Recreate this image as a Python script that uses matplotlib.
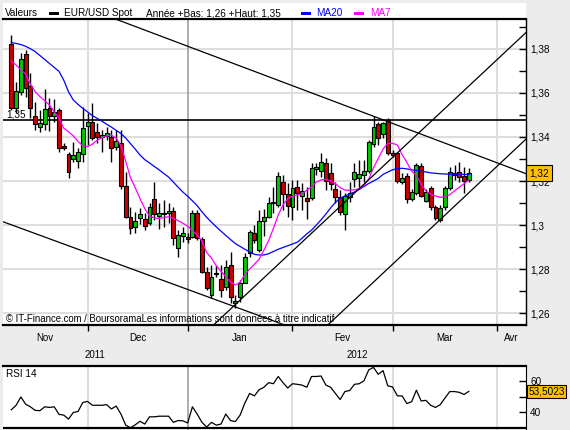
import numpy as np
import pandas as pd
import matplotlib
matplotlib.use('Agg')
import matplotlib.pyplot as plt
from matplotlib.patches import Rectangle
from matplotlib.transforms import blended_transform_factory

plt.rcParams['font.family'] = ['Liberation Sans', 'DejaVu Sans']

# EUR/USD daily candles, 9 Nov 2011 -> 23 Mar 2012
opens = [1.3822, 1.3530, 1.3603, 1.3777, 1.3631, 1.3495, 1.3447, 1.3459, 1.3530, 1.3495,
         1.3522, 1.3359, 1.3325, 1.3298, 1.3291, 1.3325, 1.3448, 1.3466, 1.3421, 1.3398,
         1.3404, 1.3398, 1.3353, 1.3371, 1.3177, 1.3038, 1.2989, 1.3030, 1.3026, 1.3008,
         1.3117, 1.3043, 1.3056, 1.3053, 1.3065, 1.2894, 1.2950, 1.2944, 1.2947, 1.3053,
         1.2935, 1.2788, 1.2682, 1.2778, 1.2753, 1.2720, 1.2818, 1.2644, 1.2671, 1.2739,
         1.2871, 1.2962, 1.2886, 1.3020, 1.3038, 1.3103, 1.3091, 1.3197, 1.3140, 1.3083,
         1.3171, 1.3132, 1.3123, 1.3122, 1.3253, 1.3247, 1.3281, 1.3235, 1.3162, 1.3129,
         1.3050, 1.3126, 1.3208, 1.3212, 1.3229, 1.3247, 1.3368, 1.3459, 1.3414, 1.3475,
         1.3329, 1.3326, 1.3197, 1.3223, 1.3117, 1.3144, 1.3268, 1.3111, 1.3167, 1.3084,
         1.3023, 1.3081, 1.3167, 1.3238, 1.3243, 1.3223, 1.3205]
highs = [1.3863, 1.3651, 1.3780, 1.3795, 1.3689, 1.3560, 1.3522, 1.3618, 1.3575, 1.3571,
         1.3530, 1.3371, 1.3333, 1.3378, 1.3348, 1.3535, 1.3507, 1.3556, 1.3462, 1.3431,
         1.3447, 1.3431, 1.3431, 1.3431, 1.3242, 1.3083, 1.3061, 1.3076, 1.3053, 1.3099,
         1.3197, 1.3099, 1.3114, 1.3099, 1.3083, 1.2977, 1.2992, 1.2962, 1.3068, 1.3068,
         1.2947, 1.2811, 1.2818, 1.2818, 1.2818, 1.2841, 1.2879, 1.2682, 1.2750, 1.2871,
         1.2977, 1.3000, 1.3068, 1.3075, 1.3129, 1.3174, 1.3243, 1.3227, 1.3189, 1.3205,
         1.3205, 1.3189, 1.3175, 1.3281, 1.3281, 1.3326, 1.3303, 1.3281, 1.3197, 1.3159,
         1.3144, 1.3197, 1.3281, 1.3296, 1.3296, 1.3387, 1.3496, 1.3470, 1.3470, 1.3485,
         1.3341, 1.3334, 1.3235, 1.3235, 1.3162, 1.3281, 1.3281, 1.3162, 1.3178, 1.3091,
         1.3091, 1.3178, 1.3265, 1.3273, 1.3288, 1.3265, 1.3258]
lows = [1.3522, 1.3507, 1.3591, 1.3583, 1.3485, 1.3431, 1.3424, 1.3431, 1.3428, 1.3469,
        1.3333, 1.3341, 1.3212, 1.3288, 1.3257, 1.3288, 1.3363, 1.3386, 1.3371, 1.3333,
        1.3386, 1.3288, 1.3341, 1.3166, 1.3030, 1.2959, 1.2964, 1.3005, 1.2977, 1.3000,
        1.3023, 1.2980, 1.2992, 1.3008, 1.2909, 1.2856, 1.2924, 1.2917, 1.2939, 1.2932,
        1.2780, 1.2705, 1.2667, 1.2765, 1.2674, 1.2705, 1.2644, 1.2621, 1.2652, 1.2735,
        1.2856, 1.2917, 1.2879, 1.2950, 1.3030, 1.3053, 1.3083, 1.3068, 1.3038, 1.3023,
        1.3068, 1.3068, 1.3026, 1.3114, 1.3228, 1.3220, 1.3159, 1.3159, 1.3099, 1.3046,
        1.2978, 1.3106, 1.3175, 1.3175, 1.3197, 1.3235, 1.3356, 1.3364, 1.3394, 1.3318,
        1.3308, 1.3193, 1.3187, 1.3099, 1.3111, 1.3137, 1.3126, 1.3106, 1.3068, 1.3023,
        1.3015, 1.3068, 1.3159, 1.3205, 1.3197, 1.3144, 1.3197]
closes = [1.3530, 1.3609, 1.3753, 1.3621, 1.3530, 1.3459, 1.3462, 1.3527, 1.3495, 1.3515,
          1.3348, 1.3348, 1.3239, 1.3316, 1.3330, 1.3441, 1.3466, 1.3394, 1.3398, 1.3407,
          1.3416, 1.3348, 1.3381, 1.3177, 1.3038, 1.2985, 1.3018, 1.3050, 1.2997, 1.3080,
          1.3050, 1.3056, 1.3048, 1.3065, 1.2939, 1.2955, 1.2965, 1.2935, 1.3053, 1.2939,
          1.2788, 1.2712, 1.2762, 1.2782, 1.2705, 1.2811, 1.2671, 1.2656, 1.2739, 1.2853,
          1.2970, 1.2932, 1.3018, 1.3038, 1.3102, 1.3101, 1.3223, 1.3140, 1.3086, 1.3167,
          1.3147, 1.3155, 1.3111, 1.3258, 1.3262, 1.3288, 1.3200, 1.3187, 1.3126, 1.3061,
          1.3132, 1.3144, 1.3243, 1.3231, 1.3247, 1.3376, 1.3447, 1.3394, 1.3465, 1.3326,
          1.3318, 1.3202, 1.3215, 1.3117, 1.3152, 1.3273, 1.3132, 1.3152, 1.3084, 1.3031,
          1.3076, 1.3167, 1.3240, 1.3228, 1.3220, 1.3200, 1.3236]

ma20 = [1.3829, 1.3825, 1.3820, 1.3812, 1.3801, 1.3788, 1.3770, 1.3752, 1.3734, 1.3716,
        1.3698, 1.3658, 1.3605, 1.3568, 1.3548, 1.3530, 1.3514, 1.3497, 1.3485, 1.3472,
        1.3458, 1.3445, 1.3430, 1.3416, 1.3395, 1.3370, 1.3345, 1.3318, 1.3297, 1.3282,
        1.3266, 1.3251, 1.3234, 1.3218, 1.3195, 1.3172, 1.3150, 1.3131, 1.3110, 1.3088,
        1.3060, 1.3035, 1.3013, 1.2992, 1.2972, 1.2953, 1.2934, 1.2916, 1.2903, 1.2890,
        1.2878, 1.2867, 1.2864, 1.2864, 1.2870, 1.2880, 1.2890, 1.2898, 1.2906, 1.2914,
        1.2922, 1.2940, 1.2960, 1.2977, 1.3000, 1.3024, 1.3050, 1.3078, 1.3103, 1.3122,
        1.3132, 1.3141, 1.3150, 1.3162, 1.3175, 1.3189, 1.3200, 1.3212, 1.3230, 1.3241,
        1.3251, 1.3256, 1.3258, 1.3255, 1.3251, 1.3248, 1.3245, 1.3241, 1.3237, 1.3235,
        1.3233, 1.3232, 1.3231, 1.3231, 1.3230, 1.3230, 1.3230]
ma7 = [1.3745, 1.3727, 1.3705, 1.3685, 1.3640, 1.3606, 1.3583, 1.3565, 1.3545, 1.3515,
       1.3485, 1.3440, 1.3424, 1.3405, 1.3380, 1.3360, 1.3356, 1.3368, 1.3385, 1.3397,
       1.3405, 1.3408, 1.3395, 1.3360, 1.3290, 1.3215, 1.3170, 1.3120, 1.3075, 1.3040,
       1.3032, 1.3030, 1.3034, 1.3038, 1.3030, 1.3020, 1.3008, 1.2995, 1.2975, 1.2955,
       1.2927, 1.2875, 1.2850, 1.2815, 1.2790, 1.2765, 1.2740, 1.2728, 1.2740, 1.2775,
       1.2800, 1.2822, 1.2845, 1.2886, 1.2930, 1.2985, 1.3045, 1.3091, 1.3120, 1.3132,
       1.3136, 1.3143, 1.3158, 1.3174, 1.3195, 1.3205, 1.3208, 1.3201, 1.3188, 1.3170,
       1.3159, 1.3158, 1.3160, 1.3165, 1.3180, 1.3210, 1.3260, 1.3303, 1.3345, 1.3371,
       1.3371, 1.3364, 1.3320, 1.3285, 1.3245, 1.3225, 1.3185, 1.3155, 1.3140, 1.3132,
       1.3126, 1.3130, 1.3138, 1.3155, 1.3172, 1.3188, 1.3205]
rsi = [41.6, 44.5, 49.9, 45.2, 43.5, 41.2, 41.0, 43.5, 43.1, 43.5,
       38.6, 38.1, 35.5, 39.8, 40.5, 46.3, 47.0, 44.5, 44.5, 44.5,
       44.9, 42.1, 44.0, 38.8, 31.6, 29.9, 31.8, 34.1, 32.3, 37.0,
       37.0, 37.4, 37.4, 37.4, 33.4, 34.6, 34.4, 33.0, 43.5, 38.8,
       33.4, 30.4, 33.4, 31.6, 32.3, 38.8, 34.6, 33.9, 38.1, 45.9,
       52.2, 50.6, 54.6, 56.2, 59.2, 58.5, 63.2, 59.2, 55.7, 58.5,
       58.1, 57.6, 56.2, 63.2, 63.2, 63.5, 57.6, 56.2, 52.2, 48.2,
       53.4, 54.1, 58.1, 58.5, 60.4, 67.5, 69.1, 64.6, 67.0, 57.1,
       56.4, 50.6, 50.6, 45.6, 46.8, 54.3, 47.3, 47.7, 44.5, 43.1,
       44.9, 49.2, 53.4, 53.4, 52.9, 51.5, 53.5023]

# hand-drawn trend lines: (index, price) pairs
trend_lines = [((20, 1.3951), (110, 1.3217)),
               ((-3, 1.3025), (60, 1.2525)),
               ((40, 1.2497), (110, 1.3915)),
               ((60, 1.2416), (110, 1.3431))]
level = 1.3477

dates = pd.bdate_range('2011-11-09', '2012-03-23', freq='C', holidays=['2011-12-26'])
calendar = pd.bdate_range('2011-11-09', '2012-04-30', freq='C', holidays=['2011-12-26'])
month_names = ['Jan', 'Fev', 'Mar', 'Avr', 'Mai', 'Juin', 'Juil', 'Aou', 'Sep', 'Oct', 'Nov', 'Dec']

X_LEFT, X_RIGHT = -1.75, 108.0
BG = '#ECECEC'
RED, GREEN = '#CC0000', '#00C800'

O, H, L, C = (np.array(v) for v in (opens, highs, lows, closes))
x = np.arange(len(dates))

starts = [i for i in range(1, len(calendar)) if calendar[i].month != calendar[i - 1].month]
year_start = [i for i in starts if calendar[i].year != calendar[i - 1].year][0]

W, Hpx = 570, 430
fig = plt.figure(figsize=(5.7, 4.3), dpi=100, facecolor=BG)
ax = fig.add_axes([3 / W, 1 - 325 / Hpx, 523 / W, 306 / Hpx])
ax_r = fig.add_axes([3 / W, 0, 523 / W, 64 / Hpx])
fig.add_artist(Rectangle((3 / W, 1 - 19 / Hpx), 523 / W, 16 / Hpx, transform=fig.transFigure,
                         facecolor='white', edgecolor='none', zorder=0))

# ---- main panel
ax.set_xlim(X_LEFT, X_RIGHT)
ax.set_ylim(1.2546, 1.3936)
major = np.round(np.arange(1.26, 1.381, 0.02), 2)
minor = np.round(np.arange(1.27, 1.391, 0.02), 2)
for v in major:
    ax.axhline(v, color='#DEDEDE', lw=1.5, zorder=0.5)
for s in starts:
    if s == year_start:
        ax.axvline(s, color='#A0A0A0', lw=1.2, zorder=0.6)
    else:
        ax.axvline(s, color='#DEDEDE', lw=1.5, zorder=0.5)

ax.axhline(level, color='black', lw=1.2, zorder=1)
trans_ay = blended_transform_factory(ax.transAxes, ax.transData)
ax.text(0.006, level + 0.0004, f"{level:.2f}".replace('.', ','), transform=trans_ay,
        fontsize=7.2, va='bottom', ha='left')

up = C >= O
ax.vlines(x, L, H, color='black', lw=1, zorder=2)
ax.bar(x, np.maximum(np.abs(C - O), 0.0001), bottom=np.minimum(O, C), width=0.82,
       color=np.where(up, GREEN, RED), edgecolor='black', lw=0.8, zorder=3)

ax.plot(x, ma20, color='#0000FF', lw=0.9, zorder=4)
ax.plot(x, ma7, color='#FF00FF', lw=0.9, zorder=4)
for (x0, p0), (x1, p1) in trend_lines:
    ax.plot([x0, x1], [p0, p1], color='black', lw=0.9, zorder=5)

ax.yaxis.tick_right()
ax.set_yticks(major)
ax.set_yticklabels([f"{v:.2f}".rstrip('0').replace('.', ',') for v in major])
ax.set_yticks(minor, minor=True)
ax.tick_params(axis='y', which='both', direction='in', length=5, width=1,
               labelsize=7.2, pad=3, colors='black')
ax.set_xticks(starts)
ax.tick_params(axis='x', direction='out', length=4, width=1, labelbottom=False)
for side in ('left',):
    ax.spines[side].set_visible(False)
ax.spines['top'].set_linewidth(1.6)
ax.spines['bottom'].set_linewidth(1.6)
ax.spines['right'].set_linewidth(1.0)

ax.text(1.006, C[-1], f"{C[-1]:.2f}".replace('.', ','), transform=trans_ay, fontsize=7.2,
        va='center', ha='left', clip_on=False, zorder=10,
        bbox=dict(boxstyle='square,pad=0.3', fc='#FFC000', ec='black', lw=0.8))

ax.text(0.006, 0.02, "\u00a9 IT-Finance.com / BoursoramaLes informations sont donn\u00e9es \u00e0 titre indicatif",
        transform=ax.transAxes, fontsize=6.9, va='center', ha='left', zorder=6)

# month / year labels
trans_xa = blended_transform_factory(ax.transData, ax.transAxes)
edges = [X_LEFT] + starts + [X_RIGHT]
seg_months = [calendar[0].month] + [calendar[s].month for s in starts]
for (a, b), m in zip(zip(edges[:-1], edges[1:]), seg_months):
    ax.text((a + b) / 2, -0.043, month_names[m - 1], transform=trans_xa, fontsize=7,
            ha='center', va='center', clip_on=False)
for (a, b), yr in zip([(X_LEFT, year_start), (year_start, X_RIGHT)],
                      [calendar[0].year, calendar[year_start].year]):
    ax.text((a + b) / 2, -0.097, str(yr), transform=trans_xa, fontsize=7,
            ha='center', va='center', clip_on=False)

# ---- legend row
yl = 1 - 13.5 / Hpx
fig.text(5 / W, yl, 'Valeurs', fontsize=7.2, va='center')
fig.add_artist(Rectangle((49 / W, 1 - 15.3 / Hpx), 10 / W, 3.3 / Hpx, transform=fig.transFigure,
                         facecolor='black', edgecolor='none'))
fig.text(64 / W, yl, 'EUR/USD Spot', fontsize=7.2, va='center')
year_mask = dates.year == calendar[year_start].year
lo, hi = L[year_mask].min(), H[year_mask].max()
fig.text(146.5 / W, yl, f"Ann\u00e9e +Bas: {lo:.2f} +Haut: {hi:.2f}".replace('.', ','),
         fontsize=7.2, va='center')
fig.add_artist(Rectangle((301 / W, 1 - 15.3 / Hpx), 10 / W, 3.3 / Hpx, transform=fig.transFigure,
                         facecolor='#0000FF', edgecolor='none'))
fig.text(316.5 / W, yl, 'MA20', fontsize=7.2, va='center', color='#0000FF')
fig.add_artist(Rectangle((354 / W, 1 - 15.3 / Hpx), 10 / W, 3.3 / Hpx, transform=fig.transFigure,
                         facecolor='#FF00FF', edgecolor='none'))
fig.text(370 / W, yl, 'MA7', fontsize=7.2, va='center', color='#FF00FF')

# ---- RSI panel
ax_r.set_xlim(X_LEFT, X_RIGHT)
ax_r.set_ylim(28.44, 70)
for s in starts:
    if s == year_start:
        ax_r.axvline(s, color='#A0A0A0', lw=1.2, zorder=0.6)
    else:
        ax_r.axvline(s, color='#DEDEDE', lw=1.5, zorder=0.5)
ax_r.axhline(30, color='black', lw=1.6, zorder=1)
ax_r.plot(x, rsi, color='black', lw=0.9, zorder=3)
ax_r.yaxis.tick_right()
ax_r.set_yticks([40, 60])
ax_r.set_yticklabels(['40', '60'])
ax_r.set_yticks([50], minor=True)
ax_r.tick_params(axis='y', which='both', direction='in', length=5, width=1, labelsize=7.2, pad=3)
ax_r.set_xticks([])
ax_r.spines['left'].set_visible(False)
ax_r.spines['bottom'].set_visible(False)
ax_r.spines['top'].set_linewidth(1.6)
ax_r.text(0.006, 0.87, 'RSI 14', transform=ax_r.transAxes, fontsize=7.2, va='center')
trans_ry = blended_transform_factory(ax_r.transAxes, ax_r.transData)
ax_r.text(1.004, rsi[-1], f"{rsi[-1]:.4f}".replace('.', ','), transform=trans_ry, fontsize=7.2,
          va='center', ha='left', clip_on=False, zorder=10,
          bbox=dict(boxstyle='square,pad=0.15', fc='#FFC000', ec='black', lw=0.8))

fig.savefig('out.png', dpi=100, facecolor=BG)
